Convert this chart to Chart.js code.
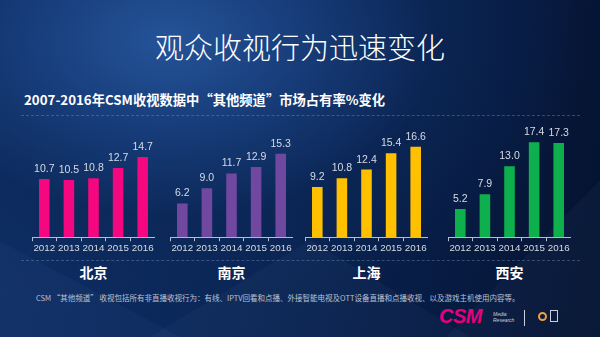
<!DOCTYPE html>
<html>
<head>
<meta charset="utf-8">
<script src="https://cdn.jsdelivr.net/npm/chart.js@4.4.0/dist/chart.umd.min.js"></script>
<style>
  body { margin: 0; background: #061634; }
  #slide {
    position: relative; width: 600px; height: 337px; overflow: hidden;
    font-family: "Noto Sans CJK SC", "Liberation Sans", sans-serif;
    background:
      radial-gradient(ellipse 70% 80% at 28% 12%, rgba(38,86,156,0.95) 0%, rgba(24,62,124,0.85) 35%, rgba(12,40,88,0.6) 65%, rgba(6,22,52,0) 100%),
      linear-gradient(100deg, #0e2f66 0%, #0b2758 40%, #071b42 75%, #05122e 100%);
  }
  .facet { position: absolute; background: rgba(120,160,220,0.05); }
  .title {
    position: absolute; left: 0; width: 600px; top: 28px; text-align: center;
    color: #fff; font-size: 29px; font-weight: 300; line-height: 36px;
  }
  .subtitle {
    position: absolute; left: 24px; top: 91px; color: #fff;
    font-size: 13.3px; font-weight: 700; line-height: 18px; white-space: nowrap;
  }
  .rule { position: absolute; left: 21px; width: 559px; height: 0; border-top: 1px dashed rgba(140,165,205,0.35); }
  .panel { position: absolute; top: 120px; width: 123px; height: 135px; }
  .city {
    position: absolute; top: 263px; width: 123px; text-align: center;
    color: #fff; font-size: 14px; font-weight: 700; line-height: 18px;
  }
  .note {
    position: absolute; left: 36px; top: 293px; color: #b9c3d6;
    font-size: 7.5px; line-height: 10px; white-space: nowrap;
  }
  .logo {
    position: absolute; left: 439px; top: 305px; color: #e5007e;
    font: italic 900 20px "Liberation Sans", sans-serif; letter-spacing: -0.5px;
  }
  .logo small {
    position: absolute; left: 54px; top: 7px; color: #c9cfdb;
    font: italic 5px/5.5px "Liberation Sans", sans-serif; letter-spacing: 0;
  }
  .sep { position: absolute; left: 524px; top: 310px; width: 1px; height: 16px; background: #c9cfdb; }
  .icon { position: absolute; left: 538px; top: 312px; width: 9px; height: 9px; border-radius: 50%; border: 2px solid #f0a040; box-sizing: border-box; }
  .icon2 { position: absolute; left: 550px; top: 310px; width: 8px; height: 12px; border: 1px solid #c9cfdb; box-sizing: border-box; }
</style>
</head>
<body>
<div id="slide">
  <div class="facet" style="left:0;top:200px;width:300px;height:137px;clip-path:polygon(0 30%,60% 100%,0 100%);"></div>
  <div class="facet" style="left:150px;top:240px;width:320px;height:97px;clip-path:polygon(0 100%,50% 0,100% 100%);"></div>
  <div class="facet" style="left:380px;top:180px;width:220px;height:157px;clip-path:polygon(100% 0,100% 100%,30% 100%);"></div>

  <div class="title">观众收视行为迅速变化</div>
  <div class="subtitle">2007-2016年CSM收视数据中“其他频道”市场占有率%变化</div>
  <div class="rule" style="top:115px"></div>
  <div class="rule" style="top:260px"></div>

  <div class="panel" style="left:32px"><canvas id="c0"></canvas></div>
  <div class="panel" style="left:170px"><canvas id="c1"></canvas></div>
  <div class="panel" style="left:305px"><canvas id="c2"></canvas></div>
  <div class="panel" style="left:448px"><canvas id="c3"></canvas></div>

  <div class="note">CSM “其他频道” 收视包括所有非直播收视行为：有线、IPTV回看和点播、外接智能电视及OTT设备直播和点播收视、以及游戏主机使用内容等。</div>
  <div class="logo">CSM<small>Media<br>Research</small></div>
  <div class="sep"></div>
  <div class="icon"></div>
  <div class="icon2"></div>
</div>
<script>
const years = ['2012', '2013', '2014', '2015', '2016'];
const beijing = [10.7, 10.5, 10.8, 12.7, 14.7];
const nanjing = [6.2, 9.0, 11.7, 12.9, 15.3];
const shanghai = [9.2, 10.8, 12.4, 15.4, 16.6];
const xian = [5.2, 7.9, 13.0, 17.4, 17.3];
const cities = ['北京', '南京', '上海', '西安'];
const colors = ['#f5077f', '#7048a0', '#ffc000', '#0eb04e'];

const numFont = "'Liberation Sans', Arial, sans-serif";

// writes each bar's value just above it
const valueLabels = {
  id: 'valueLabels',
  afterDatasetsDraw(chart) {
    const ctx = chart.ctx;
    const ds = chart.data.datasets[0];
    ctx.save();
    ctx.font = '10.5px ' + numFont;
    ctx.fillStyle = '#d6dbe4';
    ctx.textAlign = 'center';
    ctx.textBaseline = 'alphabetic';
    chart.getDatasetMeta(0).data.forEach(function (bar, i) {
      ctx.fillText(ds.data[i].toFixed(1), bar.x, bar.y - 7);
    });
    ctx.restore();
  }
};

function cityChart(canvasId, values, color) {
  const ctx = document.getElementById(canvasId).getContext('2d');
  return new Chart(ctx, {
    type: 'bar',
    data: {
      labels: years,
      datasets: [{ data: values, backgroundColor: color, borderWidth: 0,
                   categoryPercentage: 1, barPercentage: 0.43 }]
    },
    options: {
      responsive: true,
      maintainAspectRatio: false,
      animation: false,
      layout: { padding: 0 },
      plugins: { legend: { display: false }, tooltip: { enabled: false } },
      scales: {
        x: {
          offset: true,
          grid: { display: true, offset: true, drawOnChartArea: false, drawTicks: true,
                  tickLength: 4, color: '#b8bec9' },
          border: { display: true, color: '#b8bec9', width: 1 },
          ticks: { color: '#d6dbe4', padding: 1, maxRotation: 0, autoSkip: false,
                   font: { size: 9.8, family: numFont } }
        },
        y: { display: false, min: 0, max: 21.5 }
      }
    },
    plugins: [valueLabels]
  });
}

const series = [beijing, nanjing, shanghai, xian];
series.forEach(function (vals, i) {
  cityChart('c' + i, vals, colors[i]);
});

// city names under each panel
const lefts = [32, 170, 305, 448];
cities.forEach(function (name, i) {
  const el = document.createElement('div');
  el.className = 'city';
  el.style.left = lefts[i] + 'px';
  el.textContent = name;
  document.getElementById('slide').appendChild(el);
});
</script>
</body>
</html>
